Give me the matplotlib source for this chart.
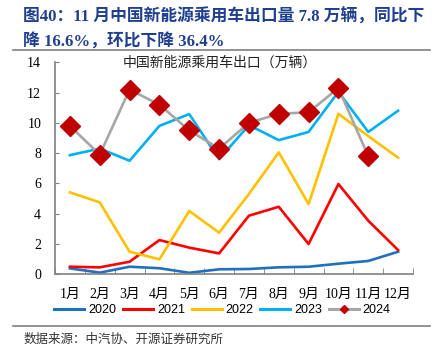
import matplotlib
matplotlib.use("Agg")
import matplotlib.pyplot as plt
from matplotlib.lines import Line2D

plt.rcParams['font.family'] = ['Liberation Serif', 'Noto Sans CJK SC']

months = ['1月', '2月', '3月', '4月', '5月', '6月', '7月', '8月', '9月', '10月', '11月', '12月']
y2020 = [0.39, 0.11, 0.50, 0.40, 0.10, 0.33, 0.35, 0.46, 0.50, 0.70, 0.88, 1.49]
y2021 = [0.50, 0.46, 0.83, 2.26, 1.76, 1.38, 3.87, 4.46, 2.00, 5.96, 3.54, 1.60]
y2022 = [5.41, 4.75, 1.49, 0.99, 4.18, 2.75, 5.30, 8.05, 4.64, 10.6, 9.13, 7.70]
y2023 = [7.87, 8.30, 7.50, 9.80, 10.58, 7.60, 9.85, 8.86, 9.40, 12.05, 9.40, 10.8]
y2024 = [9.8, 7.9, 12.2, 11.2, 9.5, 8.3, 10.0, 10.6, 10.7, 12.3, 7.8]

c2020 = '#1f70c1'
c2021 = '#ff0000'
c2022 = '#ffc000'
c2023 = '#00b0f0'
c2024 = '#a6a6a6'
cmark = '#c00000'

fig = plt.figure(figsize=(4.45, 3.56), dpi=100)
ax = fig.add_axes([0.1236, 0.2295, 0.8045, 0.5955])

x = list(range(12))
lw = 1.9
ax.plot(x, y2020, color=c2020, lw=lw)
ax.plot(x, y2021, color=c2021, lw=lw)
ax.plot(x, y2022, color=c2022, lw=lw)
ax.plot(x, y2023, color=c2023, lw=lw)
ax.plot(x[:len(y2024)], y2024, color=c2024, lw=lw, marker='D', markersize=10,
        markerfacecolor=cmark, markeredgecolor=cmark)

ax.set_xlim(-0.5, 11.5)
ax.set_ylim(0, 14)
ax.set_yticks(range(0, 15, 2))
ax.set_xticks(x)
ax.set_xticklabels(months)
ax.set_xticks([i + 0.5 for i in range(-1, 12)], minor=True)
ax.tick_params(axis='x', which='major', length=0, pad=10, labelsize=10)
ax.tick_params(axis='x', which='minor', length=4, direction='in', color='#808080')
ax.tick_params(axis='y', length=3, direction='in', color='#808080', labelsize=10, pad=10)
for s in ['top', 'right']:
    ax.spines[s].set_visible(False)
for s in ['left', 'bottom']:
    ax.spines[s].set_color('#808080')
    ax.spines[s].set_linewidth(1.2)

handles = [
    Line2D([], [], color=c2020, lw=2.2),
    Line2D([], [], color=c2021, lw=2.2),
    Line2D([], [], color=c2022, lw=2.2),
    Line2D([], [], color=c2023, lw=2.2),
    Line2D([], [], color=c2024, lw=2.2, marker='D', markersize=4,
           markerfacecolor=cmark, markeredgecolor=cmark),
]
fig.legend(handles, ['2020', '2021', '2022', '2023', '2024'], loc='center',
           bbox_to_anchor=(0.5, 0.128), ncol=5, frameon=False,
           handlelength=2.4, handletextpad=0.3, columnspacing=0.55,
           prop={'family': ['Liberation Sans'], 'size': 9})

title_color = '#1f3f8f'
fig.text(0.052, 0.978, '图40：11 月中国新能源乘用车出口量 7.8 万辆，同比下',
         fontsize=12.1, fontweight='bold', color=title_color, va='top', ha='left')
fig.text(0.052, 0.905, '降 16.6%，环比下降 36.4%',
         fontsize=12.1, fontweight='bold', color=title_color, va='top', ha='left')

fig.add_artist(Line2D([0.03, 0.967], [0.86, 0.86], color='#808080', lw=1.2))
fig.add_artist(Line2D([0.03, 0.967], [0.084, 0.084], color='#808080', lw=1.2))

fig.text(0.495, 0.822, '中国新能源乘用车出口（万辆）', fontsize=10, ha='center',
         va='center', color='#222222')

fig.text(0.052, 0.045, '数据来源：中汽协、开源证券研究所', fontsize=9,
         ha='left', va='center', color='#333333')

fig.savefig('out.png', dpi=100)
